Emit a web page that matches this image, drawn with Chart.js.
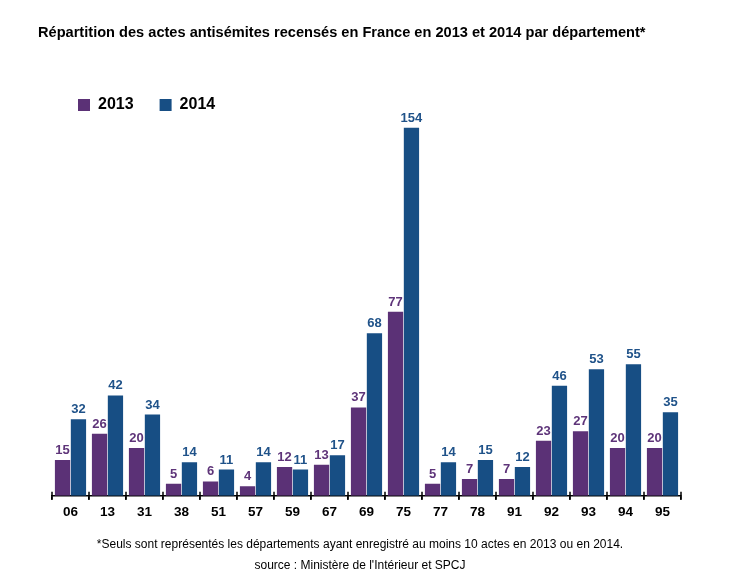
<!DOCTYPE html>
<html>
<head>
<meta charset="utf-8">
<script src="https://cdn.jsdelivr.net/npm/chart.js@4"></script>
<style>
  html, body { margin: 0; padding: 0; background: #fff; }
  body { width: 745px; height: 585px; position: relative; overflow: hidden; font-family: "Liberation Sans", Arial, sans-serif; }
  #titre { position: absolute; left: 38px; top: 24px; font-size: 14.6px; font-weight: bold; color: #000; white-space: nowrap; }
  #wrap { position: absolute; left: 0; top: 0; width: 745px; height: 585px; }
  .note { position: absolute; left: 0; width: 720px; text-align: center; font-size: 12px; color: #000; white-space: nowrap; }
  #note1 { top: 537px; }
  #note2 { top: 558px; }
</style>
</head>
<body>
<div id="wrap"><canvas id="graphique"></canvas></div>
<div id="titre">Répartition des actes antisémites recensés en France en 2013 et 2014 par département*</div>
<div class="note" id="note1">*Seuls sont représentés les départements ayant enregistré au moins 10 actes en 2013 ou en 2014.</div>
<div class="note" id="note2">source : Ministère de l'Intérieur et SPCJ</div>
<script>
// Départements et nombre d'actes
const departements = ['06', '13', '31', '38', '51', '57', '59', '67', '69', '75', '77', '78', '91', '92', '93', '94', '95'];
const actes2013 = [15, 26, 20, 5, 6, 4, 12, 13, 37, 77, 5, 7, 7, 23, 27, 20, 20];
const actes2014 = [32, 42, 34, 14, 11, 14, 11, 17, 68, 154, 14, 15, 12, 46, 53, 55, 35];

const couleur2013 = '#5b3176';
const couleur2014 = '#174e84';

// Valeurs au-dessus des barres
const etiquettesPlugin = {
    id: 'etiquettes',
    afterDatasetsDraw(chart) {
        const ctx = chart.ctx;
        ctx.save();
        ctx.font = 'bold 13px "Liberation Sans", Arial, sans-serif';
        ctx.textAlign = 'center';
        ctx.textBaseline = 'alphabetic';
        chart.data.datasets.forEach((ds, i) => {
            ctx.fillStyle = i === 0 ? '#5e3479' : '#1f5289';
            chart.getDatasetMeta(i).data.forEach((bar, j) => {
                ctx.fillText(ds.data[j], bar.x, bar.y - 6);
            });
        });
        ctx.restore();
    }
};

// Petits traits qui traversent l'axe
const traitsPlugin = {
    id: 'traits',
    afterDraw(chart) {
        const x = chart.scales.x;
        const ctx = chart.ctx;
        const y = x.top;
        const pas = (x.right - x.left) / departements.length;
        ctx.save();
        ctx.strokeStyle = '#000';
        ctx.lineWidth = 1.5;
        ctx.beginPath();
        for (let i = 0; i <= departements.length; i++) {
            const px = x.left + i * pas;
            ctx.moveTo(px, y - 4);
            ctx.lineTo(px, y + 4);
        }
        ctx.stroke();
        ctx.restore();
    }
};

new Chart(document.getElementById('graphique'), {
    type: 'bar',
    data: {
        labels: departements,
        datasets: [
            { label: '2013', data: actes2013, backgroundColor: couleur2013 },
            { label: '2014', data: actes2014, backgroundColor: couleur2014 }
        ]
    },
    options: {
        responsive: true,
        maintainAspectRatio: false,
        animation: false,
        categoryPercentage: 0.86,
        barPercentage: 0.96,
        layout: { padding: { left: 52, right: 64, top: 71, bottom: 61 } },
        plugins: {
            legend: {
                position: 'top',
                align: 'start',
                labels: {
                    boxWidth: 12,
                    boxHeight: 12,
                    padding: 26,
                    color: '#000',
                    font: { family: '"Liberation Sans", Arial, sans-serif', size: 16, weight: 'bold' }
                }
            },
            tooltip: { enabled: false }
        },
        scales: {
            y: {
                display: false,
                min: 0,
                max: 156
            },
            x: {
                grid: { display: true, drawOnChartArea: false, drawTicks: true, tickLength: 4, color: '#000', lineWidth: 1.5, offset: true },
                border: { display: true, color: '#000', width: 1.5 },
                ticks: {
                    color: '#000',
                    padding: 4,
                    font: { family: '"Liberation Sans", Arial, sans-serif', size: 13.5, weight: 'bold' }
                }
            }
        }
    },
    plugins: [etiquettesPlugin, traitsPlugin]
});
</script>
</body>
</html>
